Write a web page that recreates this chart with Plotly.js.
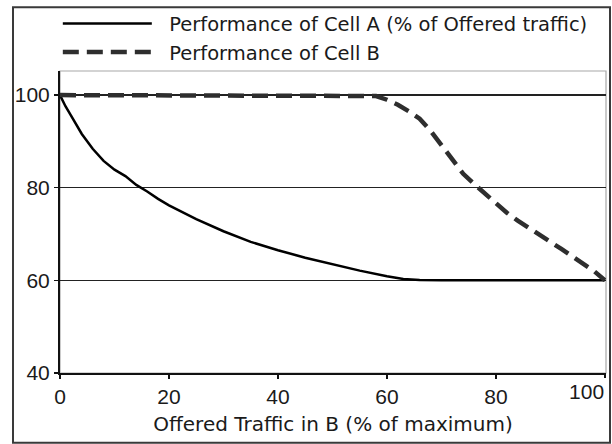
<!DOCTYPE html>
<html>
<head>
<meta charset="utf-8">
<script src="https://cdn.plot.ly/plotly-3.0.1.min.js"></script>
<style>
html,body{margin:0;padding:0;background:#fff;}
#chart{width:612px;height:444px;}
</style>
</head>
<body>
<div id="chart"></div>
<script>
// Offered traffic in B (% of maximum)
var xA = [0, 1, 2, 4, 6, 8, 10, 12, 14, 16, 18, 20, 25, 30, 35, 40, 45, 50, 55, 60, 63, 66, 70, 80, 90, 100];
// Performance of Cell A (% of offered traffic)
var yA = [100, 97.6, 95.6, 91.6, 88.4, 85.8, 83.9, 82.5, 80.6, 79.2, 77.6, 76.2, 73.2, 70.6, 68.3, 66.5, 64.9, 63.5, 62.1, 60.9, 60.3, 60.1, 60, 60, 60, 60];

var xB = [0, 10, 20, 30, 40, 50, 55, 57, 58, 60, 62, 64, 66, 68, 70, 72, 74, 76, 78, 80, 82, 84, 86, 88, 90, 92, 94, 96, 98, 100];
// Performance of Cell B
var yB = [100, 100, 100, 100, 100, 100, 100, 100, 99.8, 99.0, 97.9, 96.5, 94.9, 92.3, 89.1, 85.9, 83.0, 80.8, 78.7, 76.6, 74.6, 72.9, 71.3, 69.8, 68.3, 66.8, 65.2, 63.6, 62.0, 60];

var seriesNames = ["Performance of Cell A (% of Offered traffic)", "Performance of Cell B"];
var xTicks = [0, 20, 40, 60, 80];
var xLastTick = [100];
var yTicks = [40, 60, 80, 100];
var xTitle = "Offered Traffic in B (% of maximum)";

var FONT = "Liberation Sans, Arial, sans-serif";
var FONT2 = "DejaVu Sans, sans-serif";
var pad = "\u00a0\u00a0";

var traces = [
  {x: xA, y: yA, name: pad + seriesNames[0], type: "scatter", mode: "lines",
   xaxis: "x", yaxis: "y",
   line: {color: "#000000", width: 2.5}},
  {x: xB, y: yB, name: pad + seriesNames[1], type: "scatter", mode: "lines",
   xaxis: "x2", yaxis: "y",
   line: {color: "#2e2e2e", width: 4.5, dash: "16px,8px"}}
];

var tickFont = {family: FONT, size: 21, color: "#1a1a1a"};

var layout = {
  width: 612, height: 444,
  margin: {l: 60, r: 6, t: 70, b: 71},
  paper_bgcolor: "#ffffff", plot_bgcolor: "#ffffff",
  font: {family: FONT2, size: 19.5, color: "#1a1a1a"},
  showlegend: true,
  legend: {x: -0.004, y: 1.2165, xanchor: "left", yanchor: "top",
           font: {family: FONT2, size: 19.5, color: "#1a1a1a"},
           itemwidth: 89, bgcolor: "rgba(0,0,0,0)", tracegroupgap: 0},
  xaxis: {range: [0, 100.2], tickvals: xTicks, ticktext: xTicks.map(String),
          ticks: "outside", ticklen: 4, tickwidth: 1.5, tickcolor: "#111",
          tickfont: tickFont,
          showline: true, linecolor: "#111", linewidth: 2,
          showgrid: false, zeroline: false, fixedrange: true,
          title: {text: xTitle, font: {family: FONT2, size: 20, color: "#1a1a1a"}, standoff: 10}},
  xaxis2: {overlaying: "x", anchor: "y", side: "bottom", range: [0, 100.2],
           tickvals: xLastTick, ticktext: xLastTick.map(String),
           ticklabelposition: "outside left", ticklabeloverflow: "allow",
           ticks: "outside", ticklen: 4, tickwidth: 1.5, tickcolor: "#111",
           tickfont: tickFont,
           showline: false, showgrid: false, zeroline: false, fixedrange: true},
  yaxis: {range: [40, 105.2], tickvals: yTicks, ticktext: yTicks.map(String),
          ticks: "outside", ticklen: 4, tickwidth: 1.5, tickcolor: "#111",
          tickfont: tickFont,
          showline: true, linecolor: "#111", linewidth: 2,
          showgrid: true, gridcolor: "#222", gridwidth: 1.5,
          zeroline: false, fixedrange: true},
  shapes: [
    {type: "rect", xref: "paper", yref: "paper", x0: 0, x1: 1, y0: 0, y1: 1,
     line: {color: "#a8a8a8", width: 1.2}, layer: "below"},
    {type: "rect", xref: "paper", yref: "paper",
     x0: (13 - 60) / 546, x1: (610 - 60) / 546, y0: (373 - 443) / 303, y1: (373 - 6) / 303,
     line: {color: "#3a3a3a", width: 2}, fillcolor: "rgba(0,0,0,0)"}
  ]
};

Plotly.newPlot("chart", traces, layout, {staticPlot: true, displayModeBar: false});
</script>
</body>
</html>
